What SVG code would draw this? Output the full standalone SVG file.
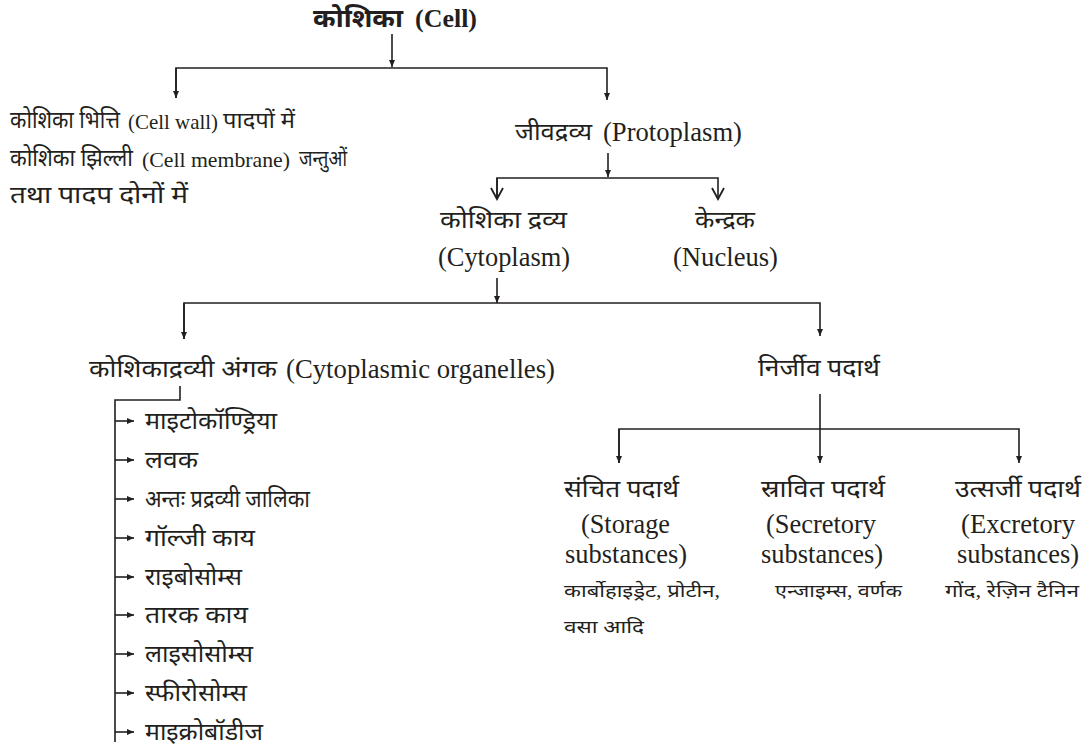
<svg xmlns="http://www.w3.org/2000/svg" width="1089" height="748" viewBox="0 0 1089 748">
<style>
text{font-family:"Liberation Serif","Noto Sans Devanagari","Lohit Devanagari",serif;fill:#231f20;font-size:24px}
.l{font-size:27px}
.m{font-size:22px}
.b{font-weight:bold;font-size:26px}
.s{font-size:18px}
.c line,.c path{stroke:#231f20;stroke-width:1.6;fill:none}
</style>
<defs>
<marker id="a" markerWidth="8" markerHeight="10" refX="7" refY="4" orient="auto" markerUnits="userSpaceOnUse">
<path d="M0,1 L7,4 L0,7 z" fill="#231f20"/>
</marker>
<marker id="v" markerWidth="16" markerHeight="16" refX="12" refY="7" orient="auto" markerUnits="userSpaceOnUse">
<path d="M1,1 L12,7 L1,13" fill="none" stroke="#231f20" stroke-width="1.8"/>
</marker>
</defs>
<rect width="1089" height="748" fill="#fff"/>
<g class="c" id="connectors">
<line x1="392" y1="34" x2="392" y2="67" marker-end="url(#a)"/>
<path d="M176,98 V68 H607 V100" marker-end="url(#a)"/>
<line x1="176" y1="68" x2="176" y2="98" marker-end="url(#a)"/>
<line x1="608" y1="153" x2="608" y2="177" marker-end="url(#a)"/>
<path d="M497,199 V178 H718 V199" marker-end="url(#v)"/>
<line x1="497" y1="178" x2="497" y2="199" marker-end="url(#v)"/>
<line x1="497" y1="278" x2="497" y2="303" marker-end="url(#a)"/>
<path d="M184,339 V303 H820 V336" marker-end="url(#a)"/>
<line x1="184" y1="303" x2="184" y2="339" marker-end="url(#a)"/>
<line x1="820" y1="394" x2="820" y2="463" marker-end="url(#a)"/>
<path d="M619,463 V429 H1019 V463" marker-end="url(#a)"/>
<line x1="619" y1="429" x2="619" y2="463" marker-end="url(#a)"/>
<path d="M180,386 V400 H115 V742"/>
<line x1="115" y1="421" x2="134" y2="421" marker-end="url(#a)"/>
<line x1="115" y1="460" x2="134" y2="460" marker-end="url(#a)"/>
<line x1="115" y1="499" x2="134" y2="499" marker-end="url(#a)"/>
<line x1="115" y1="538" x2="134" y2="538" marker-end="url(#a)"/>
<line x1="115" y1="577" x2="134" y2="577" marker-end="url(#a)"/>
<line x1="115" y1="615" x2="134" y2="615" marker-end="url(#a)"/>
<line x1="115" y1="654" x2="134" y2="654" marker-end="url(#a)"/>
<line x1="115" y1="693" x2="134" y2="693" marker-end="url(#a)"/>
<line x1="115" y1="732" x2="134" y2="732" marker-end="url(#a)"/>
</g>
<g id="cell">
<text class="b" x="313" y="27" textLength="90" lengthAdjust="spacingAndGlyphs">कोशिका</text>
<text class="b" x="415" y="27" textLength="62" lengthAdjust="spacingAndGlyphs">(Cell)</text>
</g>
<g id="cellwall">
<text x="10" y="128" textLength="110" lengthAdjust="spacingAndGlyphs">कोशिका भित्ति</text>
<text class="m" x="128" y="129" textLength="90" lengthAdjust="spacingAndGlyphs">(Cell wall)</text>
<text class="m" x="223" y="128" textLength="72" lengthAdjust="spacingAndGlyphs">पादपों में</text>
<text x="10" y="166" textLength="123" lengthAdjust="spacingAndGlyphs">कोशिका झिल्ली</text>
<text class="m" x="142" y="167" textLength="148" lengthAdjust="spacingAndGlyphs">(Cell membrane)</text>
<text class="m" x="299" y="166" textLength="48" lengthAdjust="spacingAndGlyphs">जन्तुओं</text>
<text x="10" y="203" textLength="178" lengthAdjust="spacingAndGlyphs">तथा पादप दोनों में</text>
</g>
<g id="protoplasm">
<text x="515" y="140" textLength="77" lengthAdjust="spacingAndGlyphs">जीवद्रव्य</text>
<text class="l" x="603" y="141" textLength="139" lengthAdjust="spacingAndGlyphs">(Protoplasm)</text>
</g>
<g id="cytoplasm">
<text x="440" y="228" textLength="127" lengthAdjust="spacingAndGlyphs">कोशिका द्रव्य</text>
<text class="l" x="438" y="266" textLength="132" lengthAdjust="spacingAndGlyphs">(Cytoplasm)</text>
</g>
<g id="nucleus">
<text x="695" y="228" textLength="60" lengthAdjust="spacingAndGlyphs">केन्द्रक</text>
<text class="l" x="673" y="266" textLength="105" lengthAdjust="spacingAndGlyphs">(Nucleus)</text>
</g>
<g id="organelles">
<text x="89" y="377" textLength="188" lengthAdjust="spacingAndGlyphs">कोशिकाद्रव्यी  अंगक</text>
<text class="l" x="286" y="378" textLength="269" lengthAdjust="spacingAndGlyphs">(Cytoplasmic organelles)</text>
</g>
<g id="nonliving"><text x="758" y="376" textLength="122" lengthAdjust="spacingAndGlyphs">निर्जीव पदार्थ</text></g>
<g id="list">
<text x="145" y="429" textLength="132" lengthAdjust="spacingAndGlyphs">माइटोकॉण्ड्रिया</text>
<text x="145" y="468" textLength="53" lengthAdjust="spacingAndGlyphs">लवक</text>
<text x="145" y="507" textLength="165" lengthAdjust="spacingAndGlyphs">अन्तः प्रद्रव्यी जालिका</text>
<text x="145" y="546" textLength="110" lengthAdjust="spacingAndGlyphs">गॉल्जी काय</text>
<text x="145" y="585" textLength="97" lengthAdjust="spacingAndGlyphs">राइबोसोम्स</text>
<text x="145" y="623" textLength="103" lengthAdjust="spacingAndGlyphs">तारक काय</text>
<text x="145" y="662" textLength="108" lengthAdjust="spacingAndGlyphs">लाइसोसोम्स</text>
<text x="145" y="701" textLength="102" lengthAdjust="spacingAndGlyphs">स्फीरोसोम्स</text>
<text x="145" y="740" textLength="118" lengthAdjust="spacingAndGlyphs">माइक्रोबॉडीज</text>
</g>
<g id="storage">
<text x="564" y="497" textLength="115" lengthAdjust="spacingAndGlyphs">संचित पदार्थ</text>
<text class="l" x="581" y="533" textLength="89" lengthAdjust="spacingAndGlyphs">(Storage</text>
<text class="l" x="565" y="563" textLength="122" lengthAdjust="spacingAndGlyphs">substances)</text>
<text class="s" x="564" y="597" textLength="156" lengthAdjust="spacingAndGlyphs">कार्बोहाइड्रेट, प्रोटीन,</text>
<text class="s" x="564" y="633" textLength="80" lengthAdjust="spacingAndGlyphs">वसा आदि</text>
</g>
<g id="secretory">
<text x="761" y="497" textLength="124" lengthAdjust="spacingAndGlyphs">स्रावित पदार्थ</text>
<text class="l" x="766" y="533" textLength="110" lengthAdjust="spacingAndGlyphs">(Secretory</text>
<text class="l" x="761" y="563" textLength="122" lengthAdjust="spacingAndGlyphs">substances)</text>
<text class="s" x="775" y="597" textLength="127" lengthAdjust="spacingAndGlyphs">एन्जाइम्स, वर्णक</text>
</g>
<g id="excretory">
<text x="955" y="497" textLength="126" lengthAdjust="spacingAndGlyphs">उत्सर्जी पदार्थ</text>
<text class="l" x="961" y="533" textLength="114" lengthAdjust="spacingAndGlyphs">(Excretory</text>
<text class="l" x="957" y="563" textLength="122" lengthAdjust="spacingAndGlyphs">substances)</text>
<text class="s" x="945" y="597" textLength="134" lengthAdjust="spacingAndGlyphs">गोंद, रेज़िन टैनिन</text>
</g>
</svg>
